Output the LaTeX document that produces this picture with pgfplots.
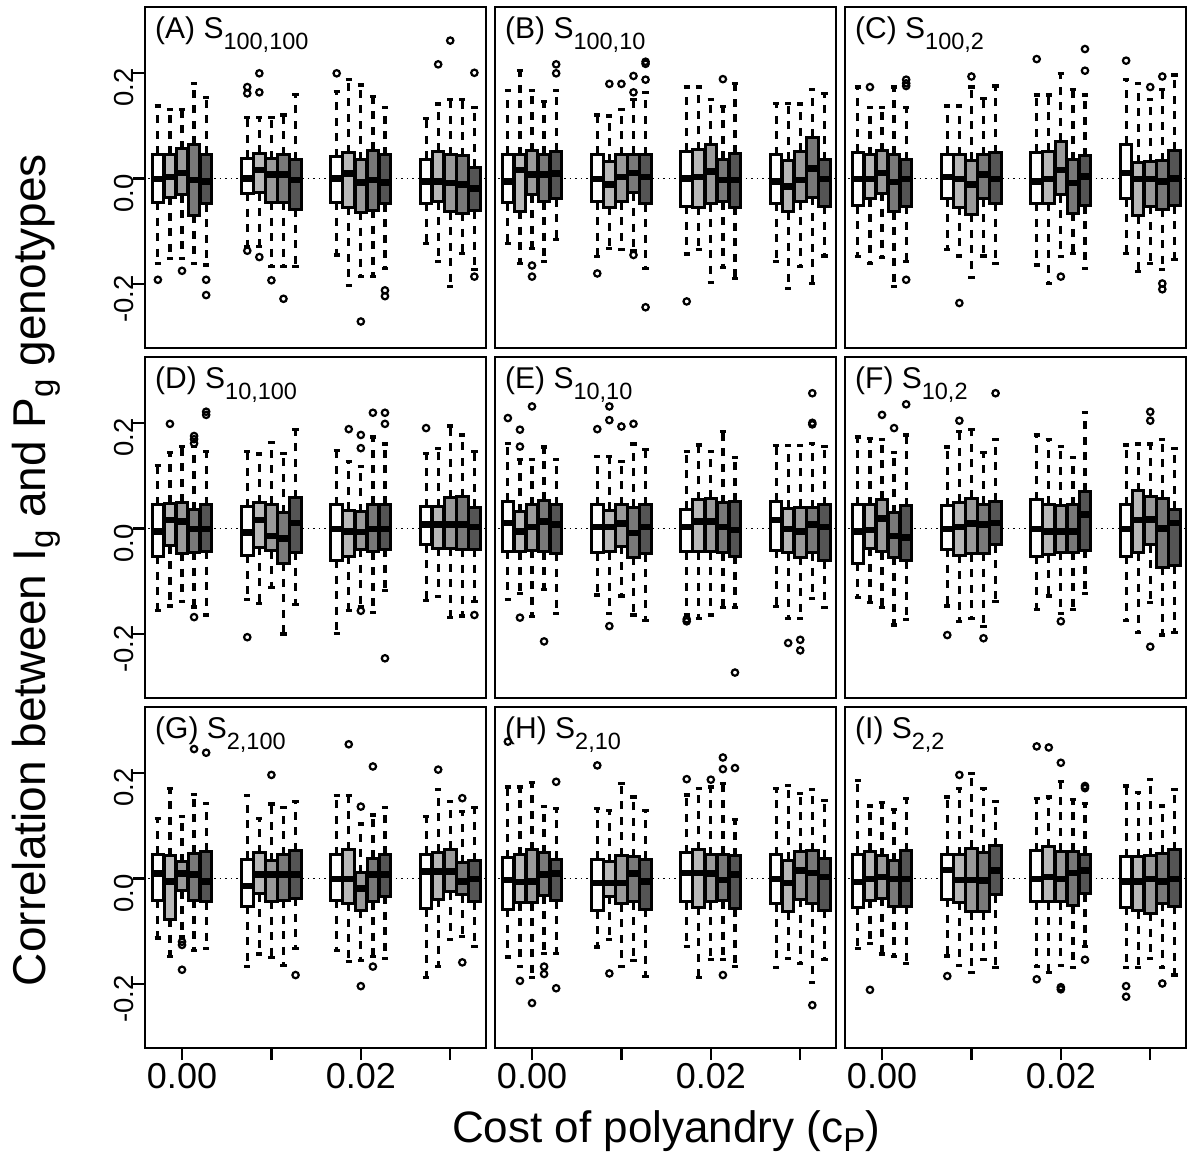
\documentclass[border=0pt]{standalone}
\usepackage{fontspec}
\setmainfont{Liberation Sans}
\usepackage{pgfplots}
\pgfplotsset{compat=1.18}
\usepgfplotslibrary{statistics}

\definecolor{c1}{gray}{1}
\definecolor{c2}{gray}{0.72}
\definecolor{c3}{gray}{0.6}
\definecolor{c4}{gray}{0.47}
\definecolor{c5}{gray}{0.33}

\newcommand{\tsub}[1]{\raisebox{-11pt}{\fontsize{23.5}{23.5}\selectfont #1}}
\newcommand{\lsub}[1]{\raisebox{-9pt}{\fontsize{33}{33}\selectfont #1}}

\pgfplotsset{
  bxs/.style={black, solid, line width=3pt, mark=o, mark size=3.2pt, mark options={solid, line width=2.2pt, black},
    boxplot/box extend=0.0013, boxplot/whisker extend=0.0007,
    boxplot/every whisker/.style={black, /tikz/line width=3.2pt, dash pattern=on 8pt off 7.5pt},
    boxplot/every median/.style={black, /tikz/line width=6.5pt, solid}},
  panel/.style={
    scale only axis, width=341pt, height=341pt, anchor=north west,
    xmin=-0.00414, xmax=0.0340, ymin=-0.3212, ymax=0.3246,
    axis line style={line width=2.2pt},
    xtick=\empty, ytick=\empty,
    scaled x ticks=false, scaled y ticks=false,
    boxplot/draw direction=y,
    tick align=outside, major tick length=12pt,
    major tick style={line width=2.2pt, black},
  },
  leftcol/.style={ytick={-0.2,0,0.2}, yticklabels={-0.2,0.0,0.2}, ytick pos=left,
    yticklabel style={rotate=90, anchor=base, inner sep=0pt, xshift=-15pt, font=\fontsize{27.5}{27.5}\selectfont}},
  bottomrow/.style={xtick={0,0.01,0.02,0.03}, xticklabels={0.00,,0.02,}, xtick pos=bottom,
    xticklabel style={anchor=north, inner sep=0pt, yshift=-3pt, font=\fontsize{36}{36}\selectfont}},
}

\newcommand{\bx}[8]{\addplot[bxs, boxplot/every box/.style={draw=black, /tikz/line width=3pt, solid, fill=c#2}, boxplot prepared={draw position={#1*0.01+(#2-3)*0.00135}, lower whisker=#3, lower quartile=#4, median=#5, upper quartile=#6, upper whisker=#7}] coordinates {#8};}
\newcommand{\zl}{\addplot[black, line width=1.5pt, dash pattern=on 1.5pt off 4pt, forget plot] coordinates {(-0.005,0) (0.035,0)};}
\newcommand{\ttl}[2]{\node[anchor=base west, inner sep=0pt, xshift=10pt, yshift=-31pt, font=\fontsize{30}{30}\selectfont] at (rel axis cs:0,1) {(#1) S\tsub{#2}};}

\begin{document}
\begin{tikzpicture}
\useasboundingbox (0,0) rectangle (1193pt,-1157pt);

% (A)
\begin{axis}[panel, leftcol, at={(145pt,-7pt)}]
\zl
\bx{0}{1}{-0.161}{-0.045}{-0.001}{0.046}{0.137}{(0,-0.192)}
\bx{0}{2}{-0.151}{-0.036}{0.003}{0.046}{0.130}{}
\bx{0}{3}{-0.151}{-0.031}{0.010}{0.056}{0.130}{(0,-0.175)}
\bx{0}{4}{-0.161}{-0.070}{-0.003}{0.065}{0.179}{}
\bx{0}{5}{-0.164}{-0.048}{-0.006}{0.046}{0.153}{(0,-0.192)(0,-0.221)}
\bx{1}{1}{-0.129}{-0.028}{0.000}{0.038}{0.116}{(0,0.173)(0,0.161)(0,-0.137)}
\bx{1}{2}{-0.129}{-0.027}{0.016}{0.048}{0.116}{(0,0.199)(0,0.163)(0,-0.149)}
\bx{1}{3}{-0.167}{-0.045}{0.007}{0.037}{0.116}{(0,-0.193)}
\bx{1}{4}{-0.167}{-0.045}{0.007}{0.045}{0.120}{(0,-0.228)}
\bx{1}{5}{-0.167}{-0.058}{-0.003}{0.035}{0.159}{}
\bx{2}{1}{-0.145}{-0.045}{0.000}{0.041}{0.164}{(0,0.199)}
\bx{2}{2}{-0.203}{-0.055}{0.009}{0.049}{0.187}{}
\bx{2}{3}{-0.186}{-0.064}{-0.008}{0.035}{0.177}{(0,-0.271)}
\bx{2}{4}{-0.186}{-0.060}{-0.003}{0.053}{0.155}{}
\bx{2}{5}{-0.170}{-0.048}{-0.008}{0.045}{0.135}{(0,-0.212)(0,-0.223)}
\bx{3}{1}{-0.123}{-0.047}{-0.006}{0.036}{0.114}{}
\bx{3}{2}{-0.158}{-0.044}{-0.006}{0.051}{0.141}{(0,0.216)}
\bx{3}{3}{-0.204}{-0.063}{-0.009}{0.045}{0.149}{(0,0.261)}
\bx{3}{4}{-0.142}{-0.066}{-0.012}{0.043}{0.149}{}
\bx{3}{5}{-0.172}{-0.061}{-0.019}{0.021}{0.135}{(0,0.200)(0,-0.186)}
\ttl{A}{100,100}
\end{axis}

% (B)
\begin{axis}[panel, at={(495pt,-7pt)}]
\zl
\bx{0}{1}{-0.124}{-0.046}{-0.006}{0.046}{0.166}{}
\bx{0}{2}{-0.161}{-0.062}{0.016}{0.045}{0.204}{}
\bx{0}{3}{-0.132}{-0.031}{0.007}{0.052}{0.166}{(0,-0.165)(0,-0.186)}
\bx{0}{4}{-0.157}{-0.044}{0.007}{0.046}{0.145}{}
\bx{0}{5}{-0.116}{-0.039}{0.009}{0.051}{0.166}{(0,0.216)(0,0.199)}
\bx{1}{1}{-0.148}{-0.044}{-0.001}{0.046}{0.120}{(0,-0.180)}
\bx{1}{2}{-0.132}{-0.055}{-0.012}{0.032}{0.118}{(0,0.179)}
\bx{1}{3}{-0.134}{-0.044}{0.003}{0.045}{0.130}{(0,0.179)}
\bx{1}{4}{-0.136}{-0.027}{0.010}{0.046}{0.150}{(0,0.194)(0,0.163)(0,-0.145)}
\bx{1}{5}{-0.170}{-0.048}{0.003}{0.045}{0.163}{(0,0.221)(0,0.217)(0,0.187)(0,-0.244)}
\bx{2}{1}{-0.143}{-0.053}{0.000}{0.051}{0.173}{(0,-0.233)}
\bx{2}{2}{-0.135}{-0.055}{0.003}{0.054}{0.173}{}
\bx{2}{3}{-0.197}{-0.048}{0.013}{0.065}{0.149}{}
\bx{2}{4}{-0.169}{-0.044}{-0.003}{0.036}{0.136}{(0,0.188)}
\bx{2}{5}{-0.189}{-0.055}{-0.003}{0.048}{0.180}{}
\bx{3}{1}{-0.158}{-0.047}{-0.006}{0.045}{0.142}{}
\bx{3}{2}{-0.208}{-0.063}{-0.015}{0.034}{0.142}{}
\bx{3}{3}{-0.167}{-0.044}{-0.003}{0.051}{0.141}{}
\bx{3}{4}{-0.199}{-0.036}{0.019}{0.078}{0.169}{}
\bx{3}{5}{-0.147}{-0.053}{-0.001}{0.035}{0.161}{}
\ttl{B}{100,10}
\end{axis}

% (C)
\begin{axis}[panel, at={(845pt,-7pt)}]
\zl
\bx{0}{1}{-0.148}{-0.052}{-0.001}{0.050}{0.173}{}
\bx{0}{2}{-0.161}{-0.039}{-0.001}{0.045}{0.135}{(0,0.173)}
\bx{0}{3}{-0.150}{-0.028}{0.010}{0.052}{0.135}{}
\bx{0}{4}{-0.205}{-0.063}{-0.007}{0.046}{0.173}{}
\bx{0}{5}{-0.158}{-0.053}{-0.001}{0.035}{0.135}{(0,0.187)(0,0.180)(0,0.175)(0,-0.192)}
\bx{1}{1}{-0.134}{-0.039}{0.003}{0.046}{0.137}{}
\bx{1}{2}{-0.147}{-0.055}{-0.001}{0.045}{0.137}{(0,-0.236)}
\bx{1}{3}{-0.188}{-0.068}{-0.012}{0.034}{0.173}{(0,0.193)}
\bx{1}{4}{-0.147}{-0.039}{0.007}{0.045}{0.152}{}
\bx{1}{5}{-0.161}{-0.047}{-0.001}{0.049}{0.175}{}
\bx{2}{1}{-0.164}{-0.047}{-0.006}{0.050}{0.158}{(0,0.226)}
\bx{2}{2}{-0.199}{-0.047}{-0.001}{0.051}{0.158}{}
\bx{2}{3}{-0.148}{-0.031}{0.016}{0.070}{0.198}{(0,-0.186)}
\bx{2}{4}{-0.142}{-0.066}{-0.009}{0.035}{0.168}{}
\bx{2}{5}{-0.170}{-0.052}{0.004}{0.043}{0.158}{(0,0.245)(0,0.204)}
\bx{3}{1}{-0.142}{-0.039}{0.010}{0.065}{0.187}{(0,0.223)}
\bx{3}{2}{-0.176}{-0.071}{-0.001}{0.030}{0.180}{}
\bx{3}{3}{-0.161}{-0.053}{-0.001}{0.032}{0.150}{(0,0.173)}
\bx{3}{4}{-0.173}{-0.058}{-0.006}{0.033}{0.168}{(0,0.193)(0,-0.199)(0,-0.210)}
\bx{3}{5}{-0.154}{-0.052}{0.000}{0.053}{0.196}{}
\ttl{C}{100,2}
\end{axis}

% (D)
\begin{axis}[panel, leftcol, at={(145pt,-357pt)}]
\zl
\bx{0}{1}{-0.156}{-0.053}{-0.006}{0.045}{0.119}{}
\bx{0}{2}{-0.147}{-0.033}{0.016}{0.048}{0.144}{(0,0.198)}
\bx{0}{3}{-0.139}{-0.047}{0.013}{0.050}{0.155}{}
\bx{0}{4}{-0.149}{-0.045}{-0.001}{0.035}{0.155}{(0,0.175)(0,0.169)(0,0.161)(0,-0.168)}
\bx{0}{5}{-0.164}{-0.043}{-0.001}{0.045}{0.146}{(0,0.221)(0,0.215)}
\bx{1}{1}{-0.135}{-0.051}{-0.008}{0.041}{0.146}{(0,-0.206)}
\bx{1}{2}{-0.142}{-0.036}{0.016}{0.049}{0.141}{}
\bx{1}{3}{-0.112}{-0.042}{-0.014}{0.046}{0.163}{}
\bx{1}{4}{-0.200}{-0.066}{-0.019}{0.030}{0.142}{}
\bx{1}{5}{-0.144}{-0.045}{0.010}{0.058}{0.187}{}
\bx{2}{1}{-0.199}{-0.060}{-0.001}{0.045}{0.147}{}
\bx{2}{2}{-0.156}{-0.053}{-0.006}{0.034}{0.127}{(0,0.188)}
\bx{2}{3}{-0.148}{-0.039}{-0.007}{0.032}{0.117}{(0,0.177)(0,0.152)(0,-0.156)}
\bx{2}{4}{-0.159}{-0.044}{-0.001}{0.046}{0.173}{(0,0.219)}
\bx{2}{5}{-0.118}{-0.039}{-0.001}{0.046}{0.160}{(0,0.219)(0,0.198)(0,-0.246)}
\bx{3}{1}{-0.137}{-0.031}{0.007}{0.041}{0.142}{(0,0.190)}
\bx{3}{2}{-0.129}{-0.038}{0.007}{0.041}{0.152}{}
\bx{3}{3}{-0.168}{-0.038}{0.007}{0.058}{0.194}{}
\bx{3}{4}{-0.166}{-0.039}{0.007}{0.060}{0.177}{}
\bx{3}{5}{-0.139}{-0.039}{0.003}{0.040}{0.146}{(0,-0.164)}
\ttl{D}{10,100}
\end{axis}

% (E)
\begin{axis}[panel, at={(495pt,-357pt)}]
\zl
\bx{0}{1}{-0.135}{-0.043}{0.010}{0.051}{0.161}{(0,0.209)}
\bx{0}{2}{-0.123}{-0.044}{-0.006}{0.032}{0.130}{(0,0.187)(0,0.155)(0,-0.169)}
\bx{0}{3}{-0.167}{-0.041}{0.003}{0.045}{0.130}{(0,0.231)}
\bx{0}{4}{-0.116}{-0.044}{0.013}{0.053}{0.154}{(0,-0.214)}
\bx{0}{5}{-0.161}{-0.047}{0.007}{0.045}{0.130}{}
\bx{1}{1}{-0.126}{-0.046}{0.003}{0.045}{0.136}{(0,0.188)}
\bx{1}{2}{-0.161}{-0.044}{0.003}{0.034}{0.136}{(0,0.231)(0,0.205)(0,-0.185)}
\bx{1}{3}{-0.128}{-0.034}{0.009}{0.045}{0.127}{(0,0.193)}
\bx{1}{4}{-0.164}{-0.055}{-0.009}{0.040}{0.160}{(0,0.198)}
\bx{1}{5}{-0.175}{-0.048}{0.003}{0.045}{0.149}{}
\bx{2}{1}{-0.164}{-0.044}{0.003}{0.036}{0.146}{(0,-0.172)(0,-0.176)}
\bx{2}{2}{-0.170}{-0.044}{0.013}{0.054}{0.158}{}
\bx{2}{3}{-0.164}{-0.044}{0.013}{0.057}{0.146}{}
\bx{2}{4}{-0.150}{-0.046}{0.003}{0.049}{0.183}{}
\bx{2}{5}{-0.150}{-0.053}{-0.003}{0.051}{0.135}{(0,-0.273)}
\bx{3}{1}{-0.148}{-0.041}{0.016}{0.051}{0.157}{}
\bx{3}{2}{-0.170}{-0.046}{-0.001}{0.038}{0.157}{(0,-0.217)}
\bx{3}{3}{-0.170}{-0.055}{-0.006}{0.040}{0.157}{(0,-0.211)(0,-0.231)}
\bx{3}{4}{-0.132}{-0.046}{0.007}{0.039}{0.161}{(0,0.256)(0,0.200)(0,0.197)}
\bx{3}{5}{-0.150}{-0.061}{0.003}{0.045}{0.155}{}
\ttl{E}{10,10}
\end{axis}

% (F)
\begin{axis}[panel, at={(845pt,-357pt)}]
\zl
\bx{0}{1}{-0.131}{-0.066}{-0.006}{0.045}{0.173}{}
\bx{0}{2}{-0.140}{-0.038}{-0.003}{0.045}{0.171}{}
\bx{0}{3}{-0.150}{-0.044}{0.019}{0.055}{0.168}{(0,0.215)}
\bx{0}{4}{-0.183}{-0.055}{-0.014}{0.030}{0.144}{(0,0.190)}
\bx{0}{5}{-0.172}{-0.061}{-0.017}{0.043}{0.177}{(0,0.235)}
\bx{1}{1}{-0.147}{-0.039}{-0.001}{0.043}{0.154}{(0,-0.202)}
\bx{1}{2}{-0.176}{-0.051}{0.003}{0.050}{0.183}{(0,0.204)}
\bx{1}{3}{-0.170}{-0.048}{0.009}{0.057}{0.187}{}
\bx{1}{4}{-0.186}{-0.047}{0.007}{0.046}{0.144}{(0,-0.208)}
\bx{1}{5}{-0.139}{-0.031}{0.010}{0.051}{0.168}{(0,0.256)}
\bx{2}{1}{-0.154}{-0.053}{-0.001}{0.054}{0.177}{}
\bx{2}{2}{-0.128}{-0.050}{-0.006}{0.046}{0.168}{}
\bx{2}{3}{-0.161}{-0.045}{-0.006}{0.043}{0.155}{(0,-0.176)}
\bx{2}{4}{-0.154}{-0.045}{-0.006}{0.045}{0.135}{}
\bx{2}{5}{-0.123}{-0.041}{0.026}{0.070}{0.219}{}
\bx{3}{1}{-0.175}{-0.053}{-0.001}{0.045}{0.158}{}
\bx{3}{2}{-0.197}{-0.046}{0.016}{0.071}{0.160}{}
\bx{3}{3}{-0.140}{-0.031}{0.017}{0.060}{0.160}{(0,0.221)(0,0.204)(0,-0.224)}
\bx{3}{4}{-0.202}{-0.074}{0.000}{0.057}{0.169}{}
\bx{3}{5}{-0.197}{-0.071}{0.010}{0.036}{0.152}{}
\ttl{F}{10,2}
\end{axis}

% (G)
\begin{axis}[panel, leftcol, bottomrow, at={(145pt,-707pt)}]
\zl
\bx{0}{1}{-0.113}{-0.041}{0.009}{0.046}{0.113}{}
\bx{0}{2}{-0.148}{-0.077}{-0.006}{0.043}{0.171}{}
\bx{0}{3}{-0.111}{-0.023}{0.009}{0.032}{0.117}{(0,-0.120)(0,-0.126)(0,-0.173)}
\bx{0}{4}{-0.137}{-0.041}{0.007}{0.048}{0.159}{(0,0.245)}
\bx{0}{5}{-0.132}{-0.044}{-0.006}{0.051}{0.142}{(0,0.238)}
\bx{1}{1}{-0.167}{-0.053}{-0.014}{0.036}{0.157}{}
\bx{1}{2}{-0.143}{-0.029}{0.007}{0.049}{0.114}{}
\bx{1}{3}{-0.150}{-0.043}{0.007}{0.033}{0.141}{(0,0.196)}
\bx{1}{4}{-0.165}{-0.041}{0.007}{0.045}{0.135}{}
\bx{1}{5}{-0.132}{-0.038}{0.007}{0.052}{0.146}{(0,-0.183)}
\bx{2}{1}{-0.137}{-0.041}{-0.001}{0.045}{0.157}{}
\bx{2}{2}{-0.158}{-0.047}{-0.001}{0.054}{0.157}{(0,0.254)}
\bx{2}{3}{-0.156}{-0.060}{-0.019}{0.011}{0.103}{(0,0.136)(0,-0.204)}
\bx{2}{4}{-0.148}{-0.044}{0.007}{0.038}{0.120}{(0,0.212)(0,-0.167)}
\bx{2}{5}{-0.151}{-0.034}{0.007}{0.046}{0.135}{}
\bx{3}{1}{-0.187}{-0.057}{0.013}{0.046}{0.117}{}
\bx{3}{2}{-0.167}{-0.039}{0.013}{0.050}{0.169}{(0,0.206)}
\bx{3}{3}{-0.116}{-0.025}{0.013}{0.055}{0.146}{}
\bx{3}{4}{-0.110}{-0.031}{-0.006}{0.030}{0.127}{(0,0.152)(0,-0.159)}
\bx{3}{5}{-0.129}{-0.044}{-0.001}{0.033}{0.135}{}
\ttl{G}{2,100}
\end{axis}

% (H)
\begin{axis}[panel, bottomrow, at={(495pt,-707pt)}]
\zl
\bx{0}{1}{-0.149}{-0.058}{-0.003}{0.039}{0.173}{(0,0.259)}
\bx{0}{2}{-0.167}{-0.046}{-0.007}{0.045}{0.173}{(0,-0.194)}
\bx{0}{3}{-0.187}{-0.046}{-0.006}{0.054}{0.182}{(0,-0.236)}
\bx{0}{4}{-0.142}{-0.033}{0.007}{0.049}{0.136}{(0,-0.167)(0,-0.181)}
\bx{0}{5}{-0.142}{-0.042}{0.009}{0.036}{0.133}{(0,0.183)(0,-0.208)}
\bx{1}{1}{-0.130}{-0.061}{-0.009}{0.036}{0.133}{(0,0.214)}
\bx{1}{2}{-0.115}{-0.034}{-0.009}{0.032}{0.128}{(0,-0.180)}
\bx{1}{3}{-0.167}{-0.048}{-0.009}{0.043}{0.179}{}
\bx{1}{4}{-0.156}{-0.044}{0.009}{0.041}{0.154}{}
\bx{1}{5}{-0.185}{-0.058}{-0.006}{0.036}{0.128}{}
\bx{2}{1}{-0.129}{-0.044}{0.010}{0.049}{0.158}{(0,0.188)}
\bx{2}{2}{-0.187}{-0.055}{0.010}{0.054}{0.171}{}
\bx{2}{3}{-0.154}{-0.044}{0.009}{0.045}{0.173}{(0,0.187)}
\bx{2}{4}{-0.154}{-0.042}{-0.003}{0.046}{0.180}{(0,0.229)(0,0.207)(0,-0.183)}
\bx{2}{5}{-0.167}{-0.057}{0.007}{0.043}{0.111}{(0,0.209)}
\bx{3}{1}{-0.168}{-0.048}{-0.001}{0.045}{0.171}{}
\bx{3}{2}{-0.151}{-0.063}{-0.009}{0.034}{0.176}{}
\bx{3}{3}{-0.161}{-0.039}{0.015}{0.051}{0.161}{}
\bx{3}{4}{-0.197}{-0.048}{0.010}{0.052}{0.168}{(0,-0.240)}
\bx{3}{5}{-0.154}{-0.060}{0.003}{0.038}{0.147}{}
\ttl{H}{2,10}
\end{axis}

% (I)
\begin{axis}[panel, bottomrow, at={(845pt,-707pt)}]
\zl
\bx{0}{1}{-0.133}{-0.055}{-0.007}{0.046}{0.185}{}
\bx{0}{2}{-0.123}{-0.041}{-0.001}{0.051}{0.137}{(0,-0.211)}
\bx{0}{3}{-0.143}{-0.038}{0.003}{0.043}{0.144}{}
\bx{0}{4}{-0.148}{-0.053}{-0.001}{0.033}{0.131}{}
\bx{0}{5}{-0.161}{-0.053}{-0.001}{0.052}{0.152}{}
\bx{1}{1}{-0.147}{-0.039}{0.016}{0.046}{0.154}{(0,-0.185)}
\bx{1}{2}{-0.165}{-0.045}{-0.003}{0.045}{0.171}{(0,0.196)}
\bx{1}{3}{-0.178}{-0.063}{-0.003}{0.057}{0.198}{}
\bx{1}{4}{-0.153}{-0.063}{-0.004}{0.049}{0.171}{}
\bx{1}{5}{-0.169}{-0.031}{0.015}{0.062}{0.146}{}
\bx{2}{1}{-0.167}{-0.044}{-0.001}{0.052}{0.152}{(0,0.250)(0,-0.191)}
\bx{2}{2}{-0.178}{-0.044}{0.003}{0.060}{0.154}{(0,0.248)}
\bx{2}{3}{-0.165}{-0.044}{-0.001}{0.051}{0.183}{(0,0.219)(0,-0.206)(0,-0.210)}
\bx{2}{4}{-0.169}{-0.052}{0.010}{0.051}{0.149}{}
\bx{2}{5}{-0.129}{-0.029}{0.015}{0.046}{0.142}{(0,0.175)(0,0.171)(0,-0.154)}
\bx{3}{1}{-0.169}{-0.055}{-0.006}{0.041}{0.175}{(0,-0.204)(0,-0.224)}
\bx{3}{2}{-0.169}{-0.061}{-0.006}{0.041}{0.163}{}
\bx{3}{3}{-0.152}{-0.066}{-0.001}{0.043}{0.187}{}
\bx{3}{4}{-0.169}{-0.047}{-0.006}{0.048}{0.137}{(0,-0.199)}
\bx{3}{5}{-0.183}{-0.053}{-0.001}{0.054}{0.169}{}
\ttl{I}{2,2}
\end{axis}

\node[rotate=90, anchor=base, inner sep=0pt, font=\fontsize{46}{46}\selectfont] at (45pt,-570pt) {Correlation between I\lsub{g} and P\lsub{g} genotypes};
\node[anchor=base, inner sep=0pt, font=\fontsize{44}{44}\selectfont] at (666pt,-1142pt) {Cost of polyandry (c\lsub{P})};
\end{tikzpicture}
\end{document}
